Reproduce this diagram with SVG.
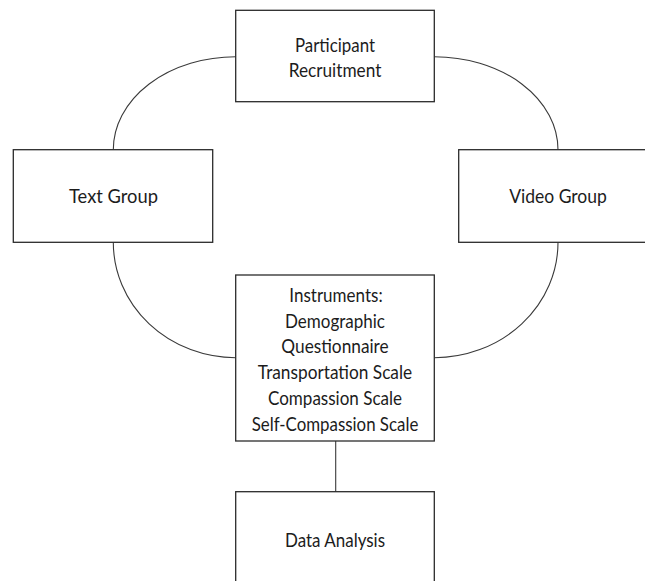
<svg xmlns="http://www.w3.org/2000/svg" width="645" height="581" viewBox="0 0 645 581">
<style>
.box{fill:#fff;stroke:#2b2b2b;stroke-width:1.3}
.lbl{font-family:Lato,"Open Sans",sans-serif;font-size:19px;fill:#1c1c1c;text-anchor:middle}
.con{fill:none;stroke:#3a3a3a;stroke-width:1.1}
</style>
<rect width="645" height="581" fill="#fff"/>
<g id="connectors">
<path class="con" d="M235.7,56.7 A122.4,93 0 0 0 113.3,149.7"/>
<path class="con" d="M434.3,56.7 A123.7,93 0 0 1 558,149.7"/>
<path class="con" d="M113.3,242.3 A122.4,115.4 0 0 0 235.7,357.7"/>
<path class="con" d="M558,242.3 A123.7,115.4 0 0 1 434.3,357.7"/>
<path class="con" d="M335.7,441 V491.7"/>
</g>
<g id="participant-recruitment">
<rect class="box" x="235.7" y="10.3" width="198.6" height="91.4"/>
<text class="lbl" x="335" y="51.7" textLength="80" lengthAdjust="spacingAndGlyphs">Participant</text>
<text class="lbl" x="335" y="77.3" textLength="92.7" lengthAdjust="spacingAndGlyphs">Recruitment</text>
</g>
<g id="text-group">
<rect class="box" x="13.3" y="149.7" width="199.4" height="92.6"/>
<text class="lbl" x="113.5" y="203" textLength="89" lengthAdjust="spacingAndGlyphs">Text Group</text>
</g>
<g id="video-group">
<rect class="box" x="458.7" y="149.7" width="199.4" height="92.6"/>
<text class="lbl" x="558" y="203" textLength="97.7" lengthAdjust="spacingAndGlyphs">Video Group</text>
</g>
<g id="instruments">
<rect class="box" x="235.7" y="275" width="198.6" height="166"/>
<text class="lbl" x="336" y="301.7" textLength="93.3" lengthAdjust="spacingAndGlyphs">Instruments:</text>
<text class="lbl" x="335" y="327.5" textLength="100" lengthAdjust="spacingAndGlyphs">Demographic</text>
<text class="lbl" x="335" y="353.3" textLength="107.3" lengthAdjust="spacingAndGlyphs">Questionnaire</text>
<text class="lbl" x="335" y="379.1" textLength="154.3" lengthAdjust="spacingAndGlyphs">Transportation Scale</text>
<text class="lbl" x="335" y="404.9" textLength="134" lengthAdjust="spacingAndGlyphs">Compassion Scale</text>
<text class="lbl" x="335" y="430.7" textLength="166.6" lengthAdjust="spacingAndGlyphs">Self-Compassion Scale</text>
</g>
<g id="data-analysis">
<rect class="box" x="235.7" y="491.7" width="198.6" height="110"/>
<text class="lbl" x="335" y="547" textLength="100" lengthAdjust="spacingAndGlyphs">Data Analysis</text>
</g>
</svg>
